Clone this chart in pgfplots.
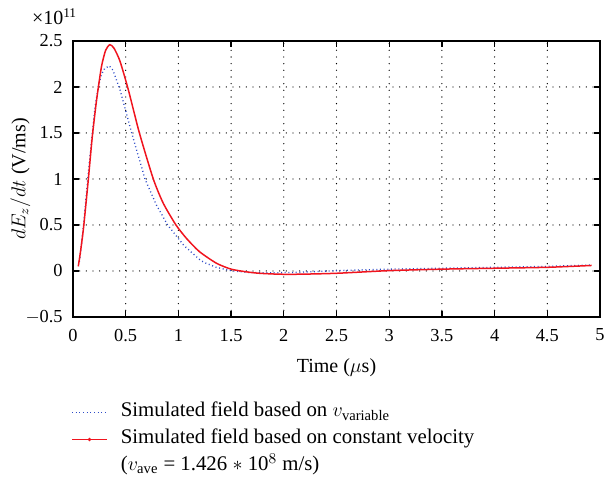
\documentclass[border=0pt]{standalone}
\usepackage{pgfplots}
\pgfplotsset{compat=1.18}
\usepackage{fontspec}
\setmainfont{Liberation Serif}
\definecolor{myblue}{RGB}{45,75,200}
\definecolor{myred}{RGB}{240,20,30}
\begin{document}
\begin{tikzpicture}
\useasboundingbox (0,0) rectangle (362.4pt,291pt);
\node[anchor=base west, inner sep=0pt, font=\fontsize{12}{14}\selectfont] at (19pt,276pt) {×10\textsuperscript{11}};
\begin{axis}[
  at={(43.8pt,100.8pt)}, anchor=south west,
  scale only axis, width=316.2pt, height=165.6pt,
  xmin=0, xmax=5, ymin=-0.5, ymax=2.5,
  xtick={0,0.5,...,5}, ytick={-0.5,0,0.5,1,1.5,2,2.5},
  xticklabels={0,0.5,1,1.5,2,2.5,3,3.5,4,4.5,5},
  yticklabels={$-$0.5,0,0.5,1,1.5,2,2.5},
  /pgf/number format/assume math mode=true,
  tick align=inside, major tick length=3.5pt,
  tick style={black, line width=0.8pt},
  axis line style={black, line width=0.8pt},
  xmajorgrids=true, ymajorgrids=true,
  grid style={black, line width=0.8pt, line cap=round, dash pattern=on 0pt off 4pt},
  ticklabel style={font=\fontsize{11}{13}\selectfont},
  xticklabel style={inner sep=0pt, yshift=-7pt},
  yticklabel style={inner sep=0pt, xshift=-6pt},
  xlabel={Time ($\mu$s)},
  ylabel={$dE_z/dt$ (V/ms)},
  label style={font=\fontsize{12}{14}\selectfont},
  xlabel style={at={(axis description cs:0.5,-0.185)}, anchor=center},
  ylabel style={at={(axis description cs:-0.100,0.5)}, anchor=center},
  legend image code/.code={\draw[#1, mark repeat=2, mark phase=2] plot coordinates {(0pt,0pt) (10.5pt,0pt) (21pt,0pt)};},
  legend style={at={(axis description cs:0,0)}, anchor=north west, xshift=-1.2pt, yshift=-49pt,
    draw=none, fill=none, inner sep=0pt, column sep=7.8pt, row sep=0pt,
    font=\fontsize{12.5}{15}\selectfont,
    nodes={inner sep=0pt, text height=10.8pt, text depth=5.4pt}},
  legend cell align=left,
]
\addplot[myblue, line width=0.8pt, dash pattern=on 0.6pt off 1.6pt] coordinates {
(0.06,0.10) (0.08,0.28) (0.10,0.50) (0.145,1.06) (0.18,1.46) (0.21,1.79) (0.24,2.0) (0.27,2.14) (0.30,2.20) (0.345,2.23) (0.38,2.18) (0.446,1.97) (0.557,1.5) (0.683,1.0) (0.79,0.72) (0.898,0.5) (1.05,0.28) (1.205,0.12) (1.25,0.09) (1.36,0.04) (1.49,0.005) (1.65,-0.015) (1.87,-0.02) (2.12,-0.015) (2.5,0.004) (3.0,0.02) (3.5,0.03) (4.0,0.04) (4.5,0.05) (4.92,0.065)
};
\addlegendentry{Simulated field based on $v_{\mathrm{variable}}$}
\addplot[myred, line width=0.9pt, smooth, tension=0.4, mark=*, mark size=0.5pt, mark phase=9999] coordinates {
(0.05,0.05) (0.07,0.2) (0.10,0.47) (0.145,0.99) (0.183,1.46) (0.224,1.86) (0.27,2.22) (0.31,2.40) (0.35,2.46) (0.39,2.42) (0.446,2.28) (0.525,1.97) (0.63,1.5) (0.762,1.0) (0.857,0.735) (0.977,0.5) (1.08,0.35) (1.2,0.21) (1.36,0.085) (1.5,0.02) (1.65,-0.01) (1.77,-0.025) (1.96,-0.035) (2.15,-0.035) (2.5,-0.025) (3.0,0.004) (3.5,0.02) (4.0,0.03) (4.5,0.04) (4.92,0.06)
};
\addlegendentry{Simulated field based on constant velocity}
\addlegendimage{empty legend}
\addlegendentry{($v_{\mathrm{ave}}$ = 1.426 $\ast$ 10$^{8}$ m/s)}
\end{axis}
\end{tikzpicture}
\end{document}
